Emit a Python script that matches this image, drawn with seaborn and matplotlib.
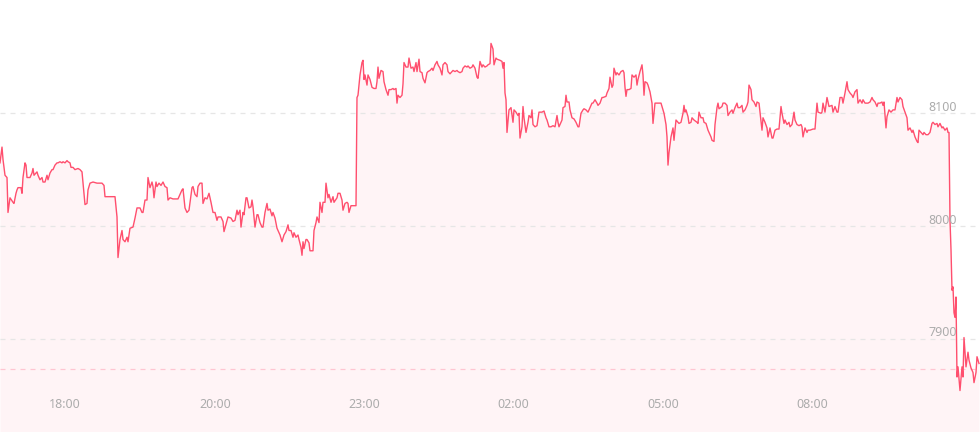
import matplotlib
matplotlib.use("Agg")
import matplotlib.pyplot as plt
import seaborn as sns
import pandas as pd

# minute index across the session and last price
t = [
    0, 2, 3, 5, 7, 8, 10, 13, 14, 16,
    17, 18, 21, 22, 23, 25, 26, 27, 30, 32,
    33, 34, 37, 38, 40, 42, 43, 45, 47, 48,
    50, 52, 53, 55, 57, 58, 60, 62, 63, 65,
    67, 68, 70, 71, 73, 75, 78, 80, 82, 83,
    85, 87, 88, 90, 93, 97, 102, 104, 105, 110,
    115, 117, 118, 120, 122, 123, 125, 127, 128, 130,
    133, 135, 137, 140, 142, 143, 145, 147, 148, 150,
    152, 153, 154, 156, 157, 159, 161, 163, 165, 167,
    168, 170, 173, 178,
    182, 183, 185, 187, 189, 192, 193, 195, 197, 198,
    200, 202, 203, 205, 207, 209, 211, 213, 215, 217,
    218, 221, 223, 224, 227, 228, 231, 233, 235, 237,
    238, 240, 241, 243, 244, 246, 247, 249, 251, 252,
    253, 255, 257, 258, 260, 262, 263, 265, 267, 268,
    270, 272, 273, 275, 277, 278, 280, 282, 284, 286,
    288, 289, 291, 293, 294, 296, 298, 299, 301, 302,
    303, 304, 306, 307, 309, 310, 313, 314, 316, 317,
    319, 320, 322, 323, 325, 326, 328, 329, 331, 333,
    334, 337, 338, 340, 342, 343, 345, 347, 348, 349,
    351, 356,
    357, 358, 360, 362, 363, 364, 365, 367, 368, 370,
    372, 374, 376, 377, 378, 379, 381, 383, 384, 386,
    388, 389, 391, 393, 394, 396, 397, 398, 400, 402,
    403, 404, 406, 408, 409, 411, 413, 414, 416, 417,
    419, 420, 422, 423, 425, 427, 428, 430, 432, 433,
    435, 437, 438, 440, 442, 443, 445, 447, 448, 450,
    452, 453, 455, 457, 458, 460, 462, 463, 465, 467,
    468, 470, 472, 473, 475, 477, 478, 480, 482, 483,
    485, 487, 488, 490, 491, 493, 494, 496, 497, 500,
    502, 503, 504, 505, 506, 507, 509, 511, 513, 514,
    516, 518, 519, 520,
    522, 523, 524, 526, 528, 529, 531, 532, 533, 535,
    537, 539, 542, 544, 546, 547, 549, 551, 553, 555,
    557, 558, 559, 561, 562, 563, 565, 566, 567, 569,
    570, 572, 574, 576, 578, 579, 581, 583, 584, 586,
    588, 589, 592, 593, 595, 597, 598, 600, 602, 603,
    606, 607, 609, 610, 612, 613, 614, 616, 617, 619,
    621, 623, 624, 625, 626, 627, 629, 631, 632, 634,
    636, 637, 638, 640, 642, 643, 644, 645, 647, 648,
    650, 652, 653, 655, 658, 661, 662, 664, 666, 667,
    668, 669,
    671, 673, 674, 676, 678, 679, 681, 683, 684, 685,
    686, 688, 689, 691, 692, 694, 697, 698, 699, 701,
    703, 704, 706, 708, 709, 711, 712, 714, 715, 717,
    718, 719, 722, 723, 725, 727, 728, 730, 732, 733,
    735, 737, 738, 740, 742, 743, 745, 747, 748, 749,
    751, 752, 754, 756, 757, 759, 760, 762, 763, 765,
    767, 768, 770, 772, 773, 775, 777, 779, 781, 782,
    784, 785, 787, 789, 790, 792, 794, 795, 797, 799,
    801, 802, 803, 805, 807, 808, 810, 813, 815, 817,
    818, 821, 822, 823, 825,
    827, 829, 832, 833, 835, 837, 838, 840, 842, 843,
    845, 847, 848, 850, 852, 853, 855, 857, 858, 860,
    862, 863, 865, 868, 870, 872, 873, 875, 877, 878,
    880, 882, 883, 884, 886, 887, 889, 891, 893, 895,
    897, 898, 900, 902, 903, 905, 907, 908, 910, 912,
    913, 915, 917, 918, 919, 921, 923, 924, 926, 928,
    930, 932, 933, 935, 937, 938, 940, 942, 943, 945,
    947, 948, 949, 950, 951, 952, 953, 954, 955, 956,
    957, 958, 960, 962, 963, 964, 966, 968, 969, 971,
    973, 974, 976, 977, 979,
]

price = [
    8056, 8070, 8059, 8045, 8043, 8012, 8025, 8021, 8020, 8029,
    8032, 8034, 8034, 8029, 8043, 8056, 8054, 8043, 8043, 8047,
    8051, 8045, 8048, 8045, 8041, 8043, 8039, 8039, 8045, 8041,
    8047, 8050, 8050, 8054, 8056, 8056, 8057, 8056, 8057, 8056,
    8058, 8057, 8056, 8052, 8052, 8050, 8051, 8050, 8048, 8038,
    8019, 8020, 8032, 8038, 8039, 8038, 8038, 8036, 8026, 8026,
    8026, 8008, 7972, 7988, 7996, 7988, 7986, 7990, 7986, 7998,
    7999, 8007, 8016, 8016, 8012, 8012, 8023, 8023, 8043, 8034,
    8039, 8035, 8025, 8039, 8035, 8038, 8036, 8039, 8035, 8034,
    8023, 8025, 8024, 8024,
    8032, 8033, 8016, 8012, 8014, 8034, 8035, 8028, 8026, 8035,
    8038, 8038, 8020, 8025, 8024, 8029, 8021, 8012, 8012, 8005,
    8008, 8008, 8004, 7995, 8005, 8008, 8007, 8004, 8005, 8014,
    8010, 8014, 7999, 8012, 8010, 8025, 8025, 8016, 8017, 8023,
    8017, 7999, 8010, 8010, 8003, 7999, 7999, 8012, 8020, 8014,
    8015, 8009, 8012, 8007, 7998, 7996, 7992, 7986, 7992, 7995,
    8001, 7996, 7996, 7990, 7994, 7990, 7992, 7988, 7981, 7974,
    7986, 7980, 7988, 7988, 7985, 7978, 7978, 7996, 8003, 8008,
    8003, 8021, 8012, 8021, 8021, 8038, 8025, 8028, 8021, 8026,
    8021, 8025, 8029, 8029, 8023, 8014, 8020, 8021, 8020, 8012,
    8018, 8018,
    8114, 8116, 8134, 8145, 8147, 8130, 8134, 8125, 8134, 8130,
    8123, 8122, 8122, 8128, 8141, 8131, 8138, 8137, 8128, 8121,
    8116, 8121, 8121, 8122, 8121, 8122, 8109, 8116, 8114, 8116,
    8126, 8145, 8141, 8141, 8149, 8140, 8141, 8137, 8145, 8137,
    8148, 8137, 8136, 8131, 8127, 8136, 8137, 8138, 8140, 8138,
    8143, 8146, 8143, 8140, 8134, 8143, 8145, 8143, 8137, 8135,
    8137, 8138, 8137, 8138, 8137, 8136, 8137, 8140, 8142, 8141,
    8142, 8140, 8141, 8143, 8140, 8132, 8131, 8146, 8141, 8143,
    8141, 8142, 8143, 8144, 8162, 8157, 8143, 8149, 8148, 8147,
    8146, 8140, 8145, 8118, 8112, 8083, 8103, 8105, 8092, 8103,
    8101, 8098, 8100, 8078,
    8088, 8106, 8096, 8083, 8092, 8098, 8096, 8103, 8090, 8088,
    8089, 8101, 8101, 8102, 8096, 8094, 8088, 8088, 8089, 8088,
    8098, 8092, 8088, 8092, 8094, 8105, 8106, 8116, 8110, 8110,
    8103, 8096, 8095, 8092, 8088, 8088, 8100, 8103, 8104, 8103,
    8101, 8103, 8109, 8109, 8112, 8109, 8107, 8109, 8114, 8114,
    8115, 8118, 8122, 8132, 8123, 8125, 8140, 8134, 8136, 8134,
    8137, 8138, 8136, 8123, 8115, 8121, 8121, 8122, 8134, 8132,
    8134, 8125, 8130, 8137, 8143, 8134, 8116, 8128, 8127, 8125,
    8119, 8109, 8091, 8109, 8109, 8109, 8106, 8100, 8090, 8079,
    8054, 8065,
    8079, 8087, 8076, 8094, 8092, 8091, 8092, 8100, 8107, 8101,
    8103, 8097, 8091, 8092, 8096, 8094, 8092, 8091, 8101, 8096,
    8096, 8092, 8091, 8085, 8083, 8079, 8076, 8075, 8090, 8105,
    8109, 8104, 8106, 8109, 8109, 8107, 8098, 8101, 8103, 8100,
    8105, 8109, 8105, 8105, 8107, 8101, 8103, 8107, 8110, 8125,
    8121, 8112, 8110, 8106, 8110, 8109, 8101, 8085, 8096, 8092,
    8087, 8079, 8087, 8078, 8078, 8085, 8086, 8086, 8106, 8100,
    8091, 8094, 8090, 8092, 8088, 8090, 8101, 8094, 8090, 8089,
    8090, 8088, 8079, 8087, 8083, 8085, 8085, 8086, 8086, 8109,
    8101, 8100, 8101, 8109, 8101,
    8114, 8106, 8107, 8101, 8106, 8101, 8101, 8114, 8114, 8109,
    8118, 8128, 8121, 8118, 8116, 8114, 8119, 8121, 8109, 8112,
    8109, 8112, 8109, 8109, 8110, 8114, 8112, 8110, 8106, 8109,
    8109, 8110, 8107, 8110, 8087, 8097, 8103, 8101, 8103, 8103,
    8114, 8110, 8114, 8112, 8106, 8101, 8096, 8085, 8087, 8083,
    8085, 8079, 8075, 8074, 8085, 8083, 8081, 8083, 8081, 8081,
    8083, 8091, 8092, 8090, 8091, 8088, 8091, 8087, 8088, 8085,
    8087, 8083, 8083, 8005, 7979, 7943, 7946, 7923, 7919, 7937,
    7866, 7875, 7854, 7875, 7866, 7901, 7875, 7888, 7881, 7874,
    7870, 7861, 7870, 7884, 7878,
]

tick_pos = [65, 215, 364, 513, 663, 812]
tick_labels = ["18:00", "20:00", "23:00", "02:00", "05:00", "08:00"]
grid_levels = [8100, 8000, 7900]
prev_close = 7873

df = pd.DataFrame({"t": t, "price": price})

line_color = "#ff4f6e"
fill_color = "#fff4f6"
text_color = "#acacac"

plt.rcParams["font.family"] = ["Noto Sans", "DejaVu Sans"]

fig = plt.figure(figsize=(9.8, 4.32), dpi=100)
ax = fig.add_axes([0, 0, 1, 1])
ax.set_xlim(0, 980)
ax.set_ylim(7817.2, 8200.5)
ax.axis("off")

ax.fill_between(df["t"], df["price"], 7817.2, color=fill_color, lw=0, zorder=1)

for lvl in grid_levels:
    ax.axhline(lvl, color="#e6e6e6", lw=0.9, dashes=(4, 4), zorder=2)
    ax.text(957 / 980, lvl + 2, str(lvl), transform=ax.get_yaxis_transform(),
            ha="right", va="baseline", fontsize=9, color=text_color, zorder=5)

ax.axhline(prev_close, color="#ffc6d2", lw=0.9, dashes=(4, 4), zorder=2)

sns.lineplot(data=df, x="t", y="price", ax=ax, color=line_color,
             linewidth=1.0, estimator=None, sort=False, zorder=4)

for pos, lab in zip(tick_pos, tick_labels):
    ax.text(pos, 1 - 404.5 / 432, lab, transform=ax.get_xaxis_transform(),
            ha="center", va="center", fontsize=9, color=text_color)

fig.savefig("out.png", dpi=100)
